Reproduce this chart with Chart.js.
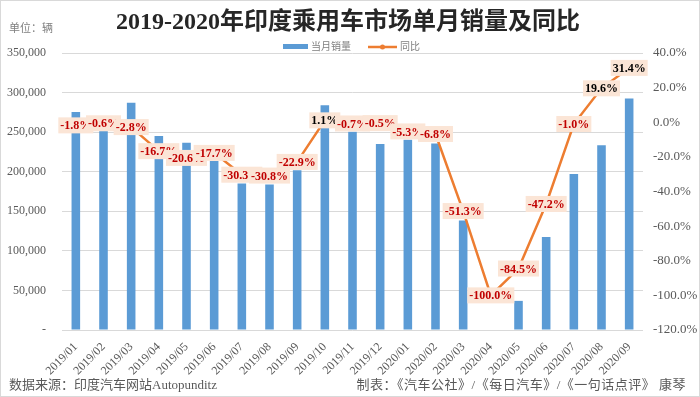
<!DOCTYPE html>
<html>
<head>
<meta charset="utf-8">
<script src="https://cdn.jsdelivr.net/npm/chart.js@4.4.1/dist/chart.umd.min.js"></script>
<style>
  body { margin: 0; background: #fff; }
  #wrap { width: 700px; height: 397px; position: relative; }
</style>
</head>
<body>
<div id="wrap"><canvas id="chart"></canvas></div>
<script>
// 월별 카테고리
const months = ['2019/01','2019/02','2019/03','2019/04','2019/05','2019/06','2019/07','2019/08','2019/09','2019/10','2019/11','2019/12',
                '2020/01','2020/02','2020/03','2020/04','2020/05','2020/06','2020/07','2020/08','2020/09'];
// 当月销量 (辆)
const sales = [275500, 265000, 287000, 245000, 236500, 213500, 185000, 184000, 202000, 284000, 250500, 235000,
               240500, 235500, 138500, 0, 36800, 117500, 197000, 233500, 292500];
// 同比 (%)
const yoy = [-1.8, -0.6, -2.8, -16.7, -20.6, -17.7, -30.3, -30.8, -22.9, 1.1, -0.7, -0.5,
             -5.3, -6.8, -51.3, -100.0, -84.5, -47.2, -1.0, 19.6, 31.4];

const serif = "'Liberation Serif', 'Noto Sans CJK SC', serif";
const cjk = "'Liberation Serif', 'Noto Sans CJK SC', sans-serif";

// 배경, 테두리, 제목, 범례, 출처
const decoPlugin = {
    id: 'deco',
    beforeDraw(chart) {
        const ctx = chart.ctx;
        ctx.save();
        ctx.fillStyle = '#fff';
        ctx.fillRect(0, 0, chart.width, chart.height);
        ctx.strokeStyle = '#D9D9D9';
        ctx.lineWidth = 1;
        ctx.strokeRect(0.5, 0.5, chart.width - 1, chart.height - 1);
        ctx.restore();
    },
    afterDraw(chart) {
        const ctx = chart.ctx;
        ctx.save();
        ctx.textBaseline = 'middle';
        // 제목
        ctx.fillStyle = '#262626';
        ctx.font = 'bold 24px ' + cjk;
        ctx.textAlign = 'center';
        ctx.fillText('2019-2020年印度乘用车市场单月销量及同比', 348, 23);
        // 단위
        ctx.fillStyle = '#7F7F7F';
        ctx.font = '11px ' + cjk;
        ctx.textAlign = 'left';
        ctx.fillText('单位：辆', 9, 29);
        // 범례
        ctx.fillStyle = '#5B9BD5';
        ctx.fillRect(283, 44, 25, 5);
        ctx.fillStyle = '#7F7F7F';
        ctx.font = '10px ' + cjk;
        ctx.fillText('当月销量', 311, 47);
        ctx.strokeStyle = '#ED7D31';
        ctx.lineWidth = 2.5;
        ctx.beginPath();
        ctx.moveTo(368, 47);
        ctx.lineTo(397, 47);
        ctx.stroke();
        ctx.fillStyle = '#ED7D31';
        ctx.beginPath();
        ctx.arc(382.5, 47, 2.5, 0, Math.PI * 2);
        ctx.fill();
        ctx.fillStyle = '#7F7F7F';
        ctx.fillText('同比', 400, 47);
        // 출처
        ctx.font = '13px ' + cjk;
        ctx.fillStyle = '#595959';
        ctx.fillText('数据来源：印度汽车网站Autopunditz', 9, 386);
        ctx.letterSpacing = '0.5px';
        ctx.textAlign = 'right';
        ctx.fillText('制表：《汽车公社》/《每日汽车》/《一句话点评》 康琴', 686, 386);
        ctx.restore();
    }
};

// 꺾은선 데이터 라벨
const labelPlugin = {
    id: 'yoyLabels',
    afterDatasetsDraw(chart) {
        const ctx = chart.ctx;
        const meta = chart.getDatasetMeta(1);
        ctx.save();
        ctx.font = 'bold 12px ' + serif;
        ctx.textAlign = 'center';
        ctx.textBaseline = 'middle';
        meta.data.forEach((pt, i) => {
            const v = yoy[i];
            const txt = v.toFixed(1) + '%';
            const w = ctx.measureText(txt).width + 4;
            const h = 16;
            ctx.fillStyle = '#FBE5D6';
            ctx.fillRect(pt.x - w / 2, pt.y - h / 2, w, h);
            ctx.fillStyle = v > 0 ? '#000000' : '#C00000';
            ctx.fillText(txt, pt.x, pt.y + 1);
        });
        ctx.restore();
    }
};

new Chart(document.getElementById('chart'), {
    type: 'bar',
    data: {
        labels: months,
        datasets: [{
            label: '当月销量',
            data: sales,
            backgroundColor: '#5B9BD5',
            yAxisID: 'y',
            barPercentage: 0.62,
            categoryPercentage: 0.5,
            order: 2
        }, {
            type: 'line',
            label: '同比',
            data: yoy,
            yAxisID: 'y1',
            borderColor: '#ED7D31',
            borderWidth: 2.5,
            backgroundColor: '#ED7D31',
            pointRadius: 2.5,
            tension: 0,
            order: 1
        }]
    },
    options: {
        responsive: true,
        maintainAspectRatio: false,
        animation: false,
        layout: { padding: { top: 53, left: 0, right: 0, bottom: 22 } },
        plugins: {
            legend: { display: false },
            tooltip: { enabled: false }
        },
        scales: {
            x: {
                grid: { display: false },
                border: { display: false },
                ticks: {
                    color: '#595959',
                    font: { family: serif, size: 12 },
                    minRotation: 45,
                    maxRotation: 45,
                    padding: 2,
                    autoSkip: false
                },
                afterFit(s) { s.height = 45; }
            },
            y: {
                position: 'left',
                min: 0,
                max: 350000,
                border: { display: false },
                grid: { color: '#D9D9D9', drawTicks: false },
                ticks: {
                    stepSize: 50000,
                    color: '#595959',
                    font: { family: serif, size: 12 },
                    padding: 16,
                    callback: v => v === 0 ? '-' : v.toLocaleString('en-US')
                },
                afterFit(s) { s.width = 62; }
            },
            y1: {
                position: 'right',
                min: -120,
                max: 40,
                border: { display: false },
                grid: { display: false, drawTicks: false },
                ticks: {
                    stepSize: 20,
                    color: '#595959',
                    font: { family: serif, size: 13 },
                    padding: 10,
                    callback: v => v.toFixed(1) + '%'
                },
                afterFit(s) { s.width = 57; }
            }
        }
    },
    plugins: [decoPlugin, labelPlugin]
});
</script>
</body>
</html>
